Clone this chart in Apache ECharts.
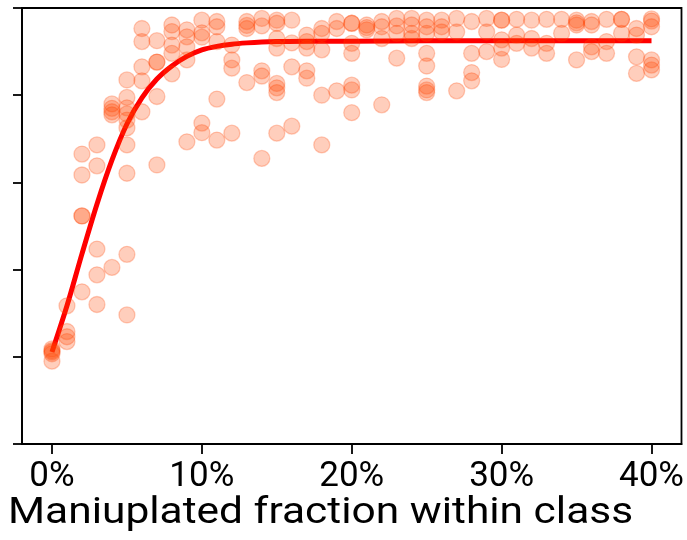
<!DOCTYPE html>
<html>
<head>
<meta charset="utf-8">
<script src="https://cdn.jsdelivr.net/npm/echarts@6/dist/echarts.min.js"></script>
<style>
  html, body { margin: 0; padding: 0; background: #fff; }
  #chart { width: 687px; height: 540px; }
</style>
</head>
<body>
<div id="chart"></div>
<script>
// Manipulated fraction (%) for each group of runs
const fractions = [0,1,2,3,4,5,6,7,8,9,10,11,12,13,14,15,16,17,18,19,20,
                   21,22,23,24,25,26,27,28,29,30,31,32,33,34,35,36,37,38,39,40];

// Score of every run, grouped by manipulated fraction (same order as fractions)
const runScores = [
  [0.218, 0.214, 0.211, 0.207, 0.190],
  [0.258, 0.246, 0.235, 0.317],
  [0.665, 0.617, 0.523, 0.523, 0.349],
  [0.686, 0.638, 0.447, 0.388, 0.320],
  [0.780, 0.770, 0.762, 0.755, 0.405],
  [0.835, 0.795, 0.771, 0.757, 0.743, 0.725, 0.686, 0.621, 0.435, 0.296],
  [0.953, 0.923, 0.865, 0.833, 0.762],
  [0.925, 0.876, 0.876, 0.797, 0.640],
  [0.961, 0.946, 0.915, 0.896, 0.849],
  [0.950, 0.934, 0.911, 0.881, 0.693],
  [0.972, 0.943, 0.933, 0.736, 0.714],
  [0.969, 0.957, 0.923, 0.791, 0.697],
  [0.915, 0.881, 0.862, 0.713],
  [0.969, 0.960, 0.953, 0.829],
  [0.976, 0.959, 0.856, 0.844, 0.655],
  [0.972, 0.965, 0.930, 0.908, 0.827, 0.817, 0.806, 0.713],
  [0.972, 0.920, 0.865, 0.729],
  [0.938, 0.923, 0.908, 0.856, 0.839],
  [0.953, 0.942, 0.904, 0.800, 0.686],
  [0.969, 0.953, 0.810],
  [0.965, 0.965, 0.919, 0.896, 0.823, 0.812, 0.760],
  [0.961, 0.955, 0.950],
  [0.969, 0.957, 0.930, 0.778],
  [0.976, 0.959, 0.942, 0.885],
  [0.976, 0.961, 0.942, 0.930],
  [0.972, 0.957, 0.942, 0.896, 0.867, 0.821, 0.812, 0.806],
  [0.972, 0.957, 0.945],
  [0.976, 0.945, 0.810],
  [0.969, 0.896, 0.852, 0.833],
  [0.976, 0.945, 0.900],
  [0.972, 0.972, 0.927, 0.908, 0.882],
  [0.974, 0.938, 0.919],
  [0.972, 0.930, 0.908],
  [0.974, 0.919, 0.896],
  [0.974, 0.942],
  [0.972, 0.966, 0.961, 0.881],
  [0.969, 0.961, 0.911, 0.900],
  [0.974, 0.923, 0.896],
  [0.974, 0.974, 0.942],
  [0.953, 0.938, 0.888, 0.850],
  [0.975, 0.970, 0.957, 0.881, 0.869, 0.858]
];

// Fitted trend through the runs
const fitFractions = [0, 1, 2, 3, 4, 5, 6, 7, 8, 9, 10, 11, 12, 13, 14, 15, 17, 20, 25, 30, 35, 40];
const fitValues = [0.211, 0.317, 0.436, 0.550, 0.651, 0.734, 0.794, 0.837, 0.867, 0.889,
                   0.904, 0.912, 0.917, 0.920, 0.922, 0.923, 0.924, 0.924, 0.925, 0.925,
                   0.925, 0.925];

// Axis ticks
const xTickValues = [0, 10, 20, 30, 40];
const xTickLabels = ['0%', '10%', '20%', '30%', '40%'];
const xAxisTitle = 'Maniuplated fraction within class';

const runPoints = [];
fractions.forEach((f, i) => runScores[i].forEach(s => runPoints.push([f, s])));
const fitPoints = fitFractions.map((f, i) => [f, fitValues[i]]);

const axisStroke = { color: '#000', width: 1.8 };
const dotColor = 'rgba(255,69,0,0.33)';

const chart = echarts.init(document.getElementById('chart'), null, { renderer: 'canvas' });
chart.setOption({
  animation: false,
  backgroundColor: '#fff',
  grid: {
    left: 22, right: 3, top: 8, bottom: 96,
    show: true, borderColor: '#000', borderWidth: 1.8, backgroundColor: 'transparent'
  },
  xAxis: {
    type: 'value', min: -2, max: 42,
    axisLine: { show: true, onZero: false, lineStyle: axisStroke },
    axisTick: { show: true, length: 10, customValues: xTickValues, lineStyle: axisStroke },
    axisLabel: {
      show: true, margin: 16, customValues: xTickValues,
      formatter: v => xTickLabels[xTickValues.indexOf(v)],
      fontFamily: 'Roboto', fontSize: 35, color: '#000'
    },
    splitLine: { show: false }
  },
  yAxis: {
    type: 'value', min: 0, max: 1, interval: 0.2,
    axisLine: { show: true, onZero: false, lineStyle: axisStroke },
    axisTick: { show: true, length: 9, lineStyle: axisStroke },
    axisLabel: { show: false },
    splitLine: { show: false }
  },
  graphic: [{
    type: 'text', x: 8, y: 496, scaleX: 1.18,
    style: { text: xAxisTitle, font: '36px Roboto', fill: '#000', verticalAlign: 'top' }
  }],
  series: [
    {
      type: 'line', data: fitPoints, smooth: 0.3,
      showSymbol: false, symbol: 'none', z: 2,
      lineStyle: { color: '#ff0000', width: 5 }
    },
    {
      type: 'scatter', data: runPoints, symbol: 'circle', symbolSize: 16, z: 3,
      itemStyle: { color: dotColor, borderColor: dotColor, borderWidth: 1.3 }
    }
  ]
});
</script>
</body>
</html>
